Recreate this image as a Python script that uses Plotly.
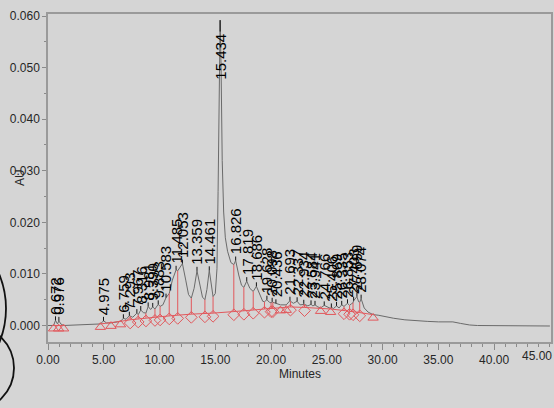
import numpy as np
import plotly.graph_objects as go

# ---------------- data ----------------
time_min = [0.00, 0.40, 0.50, 0.672, 0.85, 0.976, 1.15, 1.40, 2.50, 3.50, 4.70, 4.975, 5.25, 5.65,
            6.50, 6.759, 7.00, 7.293, 7.37, 7.60, 7.967, 8.09, 8.316, 8.55, 8.78, 8.981, 9.20, 9.390,
            9.59, 9.883, 10.05, 10.30, 10.583, 10.87, 11.15, 11.485, 11.63, 11.80, 12.053, 12.35,
            12.60, 12.85, 13.10, 13.359, 13.65, 13.85, 14.07, 14.25, 14.461, 14.65, 14.80, 15.00,
            15.15, 15.25, 15.34, 15.434, 15.52, 15.62, 15.75, 15.90, 16.10, 16.40, 16.66, 16.826,
            17.10, 17.35, 17.56, 17.819, 18.10, 18.40, 18.686, 19.00, 19.25, 19.41, 19.628, 19.85,
            20.00, 20.098, 20.16, 20.436, 20.84, 21.36, 21.693, 21.74, 22.00, 22.337, 22.60, 22.934,
            23.00, 23.30, 23.584, 23.75, 23.941, 24.20, 24.44, 24.766, 25.10, 25.34, 25.406, 25.60,
            25.869, 26.10, 26.335, 26.54, 26.853, 27.04, 27.20, 27.35, 27.403, 27.55, 27.699, 27.85,
            27.95, 28.074, 28.35, 28.70, 29.15, 29.60, 30.00, 30.50, 31.00, 32.00, 33.00, 34.00,
            35.00, 36.30, 37.00, 37.80, 38.50, 45.00]
au_signal = [0.0000, 0.0000, 0.0000, 0.0010, 0.0003, 0.0009, 0.0003, 0.0000, 0.0001, 0.0002, 0.0003,
             0.0009, 0.0005, 0.0005, 0.0008, 0.0014, 0.0012, 0.0019, 0.0018, 0.0016, 0.0024, 0.0021,
             0.0030, 0.0025, 0.0024, 0.0037, 0.0031, 0.0036, 0.0032, 0.0041, 0.0037, 0.0040, 0.0054,
             0.0062, 0.0088, 0.0108, 0.0106, 0.0112, 0.0120, 0.0088, 0.0060, 0.0053, 0.0072, 0.0106,
             0.0072, 0.0055, 0.0050, 0.0070, 0.0107, 0.0072, 0.0056, 0.0062, 0.0110, 0.0260, 0.0500,
             0.0592, 0.0500, 0.0320, 0.0220, 0.0170, 0.0144, 0.0122, 0.0118, 0.0126, 0.0098, 0.0078,
             0.0074, 0.0086, 0.0072, 0.0066, 0.0076, 0.0058, 0.0047, 0.0046, 0.0050, 0.0045, 0.0044,
             0.0046, 0.0045, 0.0043, 0.0040, 0.0040, 0.0048, 0.0047, 0.0043, 0.0047, 0.0040, 0.0042,
             0.0041, 0.0038, 0.0041, 0.0038, 0.0040, 0.0036, 0.0034, 0.0039, 0.0035, 0.0033, 0.0035,
             0.0033, 0.0038, 0.0034, 0.0040, 0.0037, 0.0043, 0.0039, 0.0042, 0.0044, 0.0048, 0.0052,
             0.0056, 0.0046, 0.0045, 0.0052, 0.0034, 0.0026, 0.0021, 0.0020, 0.0018, 0.0016, 0.0014,
             0.0011, 0.0009, 0.0008, 0.0007, 0.0007, 0.0004, 0.0001, 0.0000, -0.0001]

peak_times = [0.672, 0.976, 4.975, 6.759, 7.293, 7.967, 8.316, 8.981, 9.390, 9.883, 10.583, 11.485,
              12.053, 13.359, 14.461, 15.434, 16.826, 17.819, 18.686, 19.628, 20.098, 20.436, 21.693,
              22.337, 22.934, 23.584, 23.941, 24.766, 25.406, 25.869, 26.335, 26.853, 27.403, 27.699,
              28.074]

bound_times = [0.50, 0.95, 1.40, 4.70, 5.65, 6.50, 7.37, 8.09, 8.78, 9.59, 10.05, 10.87, 11.63, 12.85,
               14.07, 14.80, 16.66, 17.56, 18.40, 19.41, 20.00, 20.16, 20.84, 21.36, 21.74, 23.00,
               24.44, 25.34, 26.54, 27.04, 27.35, 27.95, 29.15]
bound_base = [0.0000, 0.0000, 0.0000, 0.0003, 0.0005, 0.0008, 0.0011, 0.0013, 0.0015, 0.0016, 0.0017,
              0.0019, 0.0020, 0.0022, 0.0023, 0.0024, 0.0027, 0.0028, 0.0030, 0.0032, 0.0033, 0.0033,
              0.0035, 0.0036, 0.0036, 0.0035, 0.0034, 0.0032, 0.0029, 0.0028, 0.0027, 0.0025, 0.0021]
bound_kind = ["t", "t", "t", "t", "t", "t", "d", "d", "d", "d", "d", "d", "d", "d", "d", "d", "d", "d",
              "d", "d", "d", "d", "t", "t", "d", "d", "t", "t", "d", "d", "d", "d", "t"]

x_ticks = [0, 5, 10, 15, 20, 25, 30, 35, 40, 45]
y_ticks = [0.000, 0.010, 0.020, 0.030, 0.040, 0.050, 0.060]

# ---------------- styling ----------------
BG = "#d5d5d5"
RED = "#e2585c"
TRACE = "#6a6a6a"
TICKFONT = dict(family="Liberation Sans Narrow, Arial Narrow, Liberation Sans, Arial", size=12, color="#262626")
LABELFONT = dict(family="Liberation Sans, Arial", size=15, color="#000000")

W, H = 554, 408
ML, MR, MT, MB = 48, 3, 14, 66
YMIN, YMAX = -0.0032, 0.0604
XMIN, XMAX = 0, 45.1
pw, ph = W - ML - MR, H - MT - MB
px_per_au = ph / (YMAX - YMIN)

fig = go.Figure()

# chromatogram trace
fig.add_trace(go.Scatter(x=time_min, y=au_signal, mode="lines",
                         line=dict(color=TRACE, width=1), hoverinfo="skip", showlegend=False))

# baseline (red), broken where there is no integration
bx, by = [], []
for i, (t, b) in enumerate(zip(bound_times, bound_base)):
    if i > 0 and t - bound_times[i - 1] > 2:
        bx.append(None); by.append(None)
    bx.append(t); by.append(b)
fig.add_trace(go.Scatter(x=bx, y=by, mode="lines", line=dict(color=RED, width=1),
                         hoverinfo="skip", showlegend=False))

# drop lines at diamond boundaries
dx, dy = [], []
for t, b, k in zip(bound_times, bound_base, bound_kind):
    if k == "d":
        dx += [t, t, None]
        dy += [b, float(np.interp(t, time_min, au_signal)), None]
fig.add_trace(go.Scatter(x=dx, y=dy, mode="lines", line=dict(color=RED, width=1),
                         hoverinfo="skip", showlegend=False))

# boundary markers (slightly below the baseline)
off = 3.2 / px_per_au
sym = {"t": "triangle-up-open", "d": "diamond-open"}
fig.add_trace(go.Scatter(x=bound_times, y=[b - off for b in bound_base], mode="markers",
                         marker=dict(symbol=[sym[k] for k in bound_kind], size=9, color=RED,
                                     line=dict(color=RED, width=1)),
                         hoverinfo="skip", showlegend=False))

# peak labels with stems
gap = 4 / px_per_au
text_len = 47 / px_per_au
top_limit = 0.0570
sx, sy = [], []
for t in peak_times:
    apex = float(np.interp(t, time_min, au_signal))
    lab = f"{t:.3f}"
    if apex + gap + text_len > top_limit:
        sx += [t, t, None]; sy += [apex, top_limit, None]
        fig.add_annotation(x=t, y=top_limit, text=lab, showarrow=False, textangle=-90,
                           xanchor="center", yanchor="top", font=LABELFONT)
    else:
        sx += [t, t, None]; sy += [apex, apex + gap, None]
        fig.add_annotation(x=t, y=apex + gap, text=lab, showarrow=False, textangle=-90,
                           xanchor="center", yanchor="bottom", font=LABELFONT)
fig.add_trace(go.Scatter(x=sx, y=sy, mode="lines", line=dict(color="#151515", width=1),
                         hoverinfo="skip", showlegend=False))

# last x tick label, placed against the right edge of the page
fig.add_annotation(xref="paper", yref="paper", x=1 + MR / pw, y=0, yshift=-14,
                   text=f"{x_ticks[-1]:.2f}", showarrow=False, xanchor="right", yanchor="middle",
                   font=TICKFONT)

# axis titles
fig.add_annotation(xref="paper", yref="paper", x=0, y=0.5, xshift=-28, text="AU", showarrow=False,
                   textangle=-90, xanchor="center", yanchor="middle",
                   font=dict(family="Liberation Sans, Arial", size=12, color="#262626"))
fig.add_annotation(xref="paper", yref="paper", x=0.5, y=0, yshift=-32, text="Minutes", showarrow=False,
                   xanchor="center", yanchor="middle", font=TICKFONT)

# scanned-page arcs at the left edge
def fx(p):
    return (p - ML) / pw
def fy(p):
    return (H - MB - p) / ph
for cx, cy, r in [(-84.0, 308.5, 90.0), (-29.0, 368.0, 43.0)]:
    fig.add_shape(type="circle", xref="paper", yref="paper",
                  x0=fx(cx - r), x1=fx(cx + r), y0=fy(cy + r), y1=fy(cy - r),
                  line=dict(color="#111111", width=1.8), layer="above")

axis_common = dict(showgrid=False, zeroline=False, showline=True, linecolor="#9a9a9a", linewidth=1.5,
                   mirror=True, ticks="outside", tickcolor="#8a8a8a", tickfont=TICKFONT, automargin=False)
fig.update_xaxes(range=[XMIN, XMAX], tickvals=x_ticks[:-1], tickformat=".2f", ticklen=6,
                 minor=dict(dtick=1, ticks="outside", ticklen=3, tickcolor="#8a8a8a"), **axis_common)
fig.update_yaxes(range=[YMIN, YMAX], tickvals=y_ticks, tickformat=".3f", ticklen=4,
                 minor=dict(dtick=0.005, ticks="outside", ticklen=2, tickcolor="#8a8a8a"), **axis_common)

fig.update_layout(width=W, height=H, margin=dict(l=ML, r=MR, t=MT, b=MB),
                  paper_bgcolor=BG, plot_bgcolor=BG, showlegend=False)

# remove the default page margin so the figure fills the 554x408 window exactly
fig.write_html("out.html", config={"displayModeBar": False},
               post_script="document.body.style.margin='0';document.body.style.overflow='hidden';")
